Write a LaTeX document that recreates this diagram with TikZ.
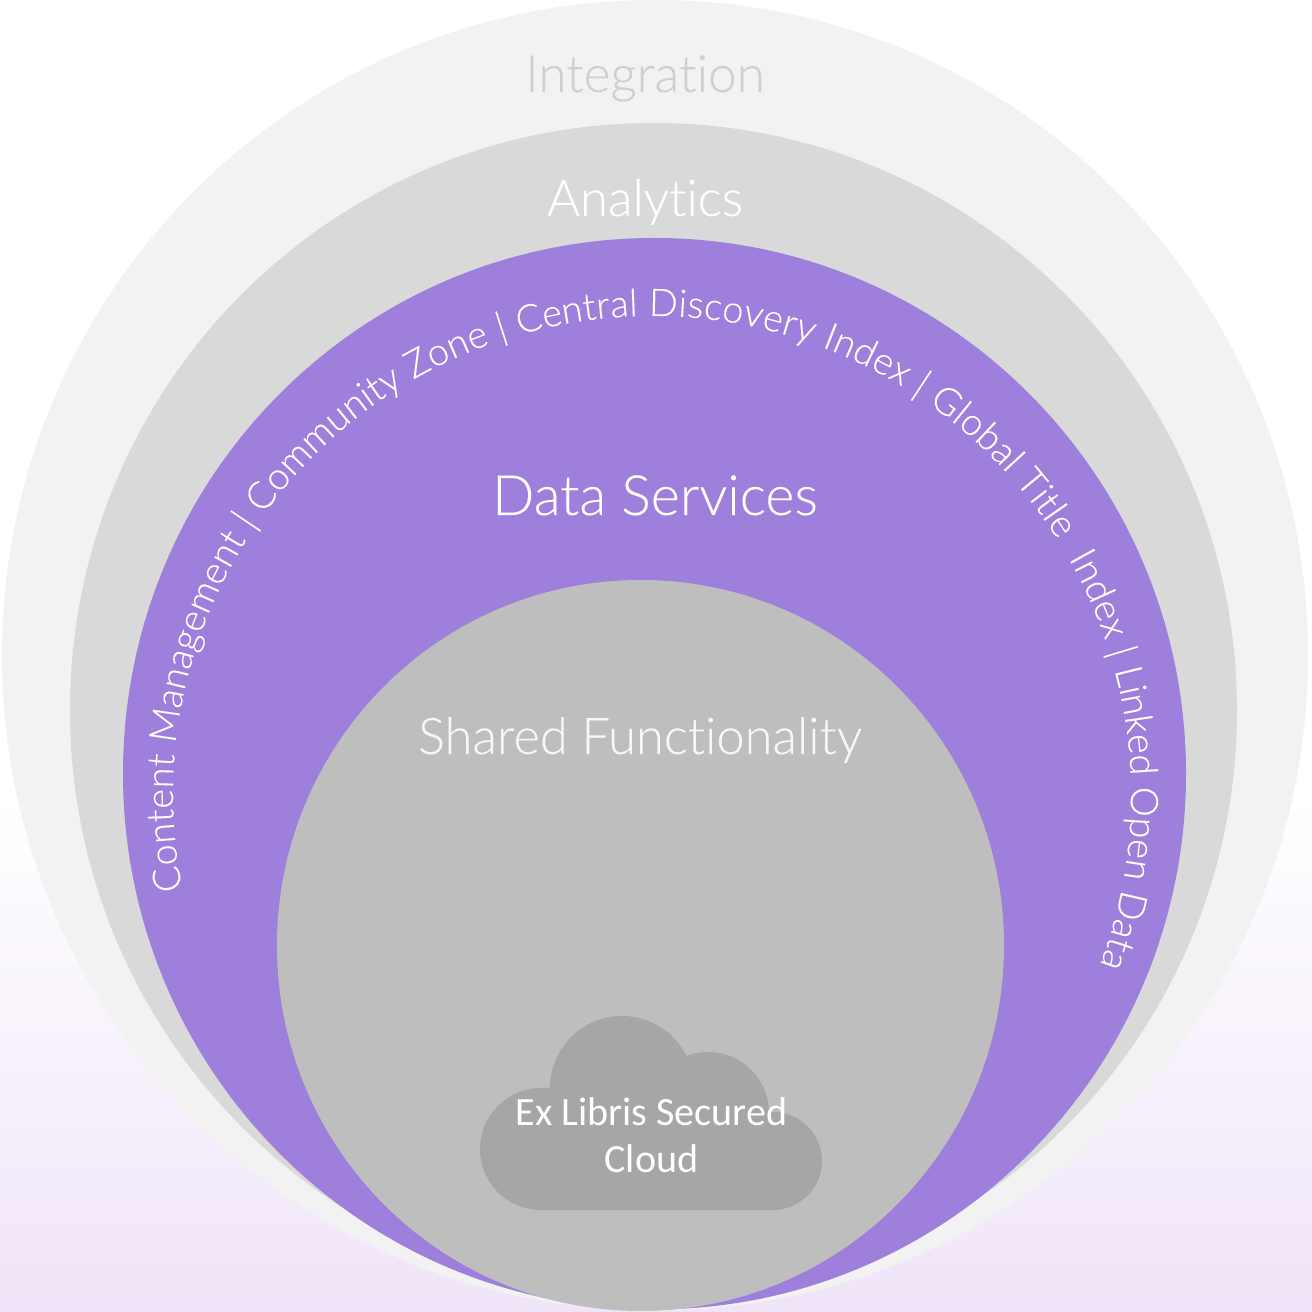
\documentclass[tikz,border=0pt]{standalone}
\usepackage{fontspec}
\usetikzlibrary{decorations.text}
\setmainfont{Lato}[UprightFont=* Light,Ligatures=NoCommon,UprightFeatures={FakeBold=0.12}]
\newfontfamily\cloudfont{Carlito}[Ligatures=NoCommon]
\definecolor{bgend}{HTML}{F0E4F8}
\definecolor{bgmid}{HTML}{F3EBFA}
\definecolor{ringouter}{HTML}{F2F2F2}
\definecolor{ringana}{HTML}{D9D9D9}
\definecolor{ringdata}{HTML}{9E7FDC}
\definecolor{ringshared}{HTML}{BEBEBE}
\definecolor{cloudfill}{HTML}{A6A6A6}
\definecolor{intext}{HTML}{CFCFCF}
\definecolor{sharedtext}{HTML}{F7F7F7}
\tikzset{
  ringlabel/.style={anchor=base,inner sep=0pt},
}
\begin{document}
\begin{tikzpicture}[x=0.01cm,y=0.01cm]
\useasboundingbox (0,0) rectangle (1312,1312);
\fill[white] (0,500) rectangle (1312,1312);
\shade[top color=white,middle color=bgmid,bottom color=bgend] (0,0) rectangle (1312,512);
\begin{scope}
\clip (0,0) rectangle (1312,1312);
\fill[ringouter] (655,656.7) ellipse[x radius=653,y radius=655.3];
\fill[ringana] (653.5,601.5) ellipse[x radius=583.5,y radius=587.5];
\fill[ringdata] (654.5,538.3) ellipse[x radius=531.5,y radius=535.7];
\fill[ringshared] (640.5,366.5) ellipse[x radius=363.5,y radius=365.5];
\end{scope}
% cloud
\begin{scope}[cloudfill]
\fill (541,163) circle[radius=61];
\fill (622,224) circle[radius=72];
\fill (708,199) circle[radius=61];
\fill (773,151) circle[radius=49];
\fill (541,102) -- (773,102) -- (773,180) -- (700,224) -- (560,224) -- (541,224) -- cycle;
\end{scope}
\node[ringlabel,text=intext,font=\fontsize{14.6}{17}\selectfont] (integration) at (645,1220) {Integration};
\node[ringlabel,text=white,font=\fontsize{14.4}{17}\selectfont] (analytics) at (645,1096) {Analytics};
\node[ringlabel,text=white,font=\fontsize{15.8}{19}\selectfont] (dataservices) at (655,797) {Data Services};
\node[ringlabel,text=sharedtext,font=\fontsize{14.4}{17}\selectfont] (sharedfn) at (640,558) {Shared Functionality};
\node[anchor=base,inner sep=0pt,text=white,align=center,font=\cloudfont\fontsize{11.4}{13.5}\selectfont] (cloudlabel) at (651.5,139) {Ex Libris Secured\\Cloud};
\path[decorate,decoration={text along path,text format delimiters={[}{]},
  text align=fit to path,
  text={[\fontsize{10.8}{12}\selectfont\color{white}]Content Management | Community Zone | Central Discovery Index | Global Title {\ }Index | Linked Open Data}}]
  (182.5,422.3) arc[start angle=191.4,delta angle=-212.2,radius=479];
\end{tikzpicture}
\end{document}
